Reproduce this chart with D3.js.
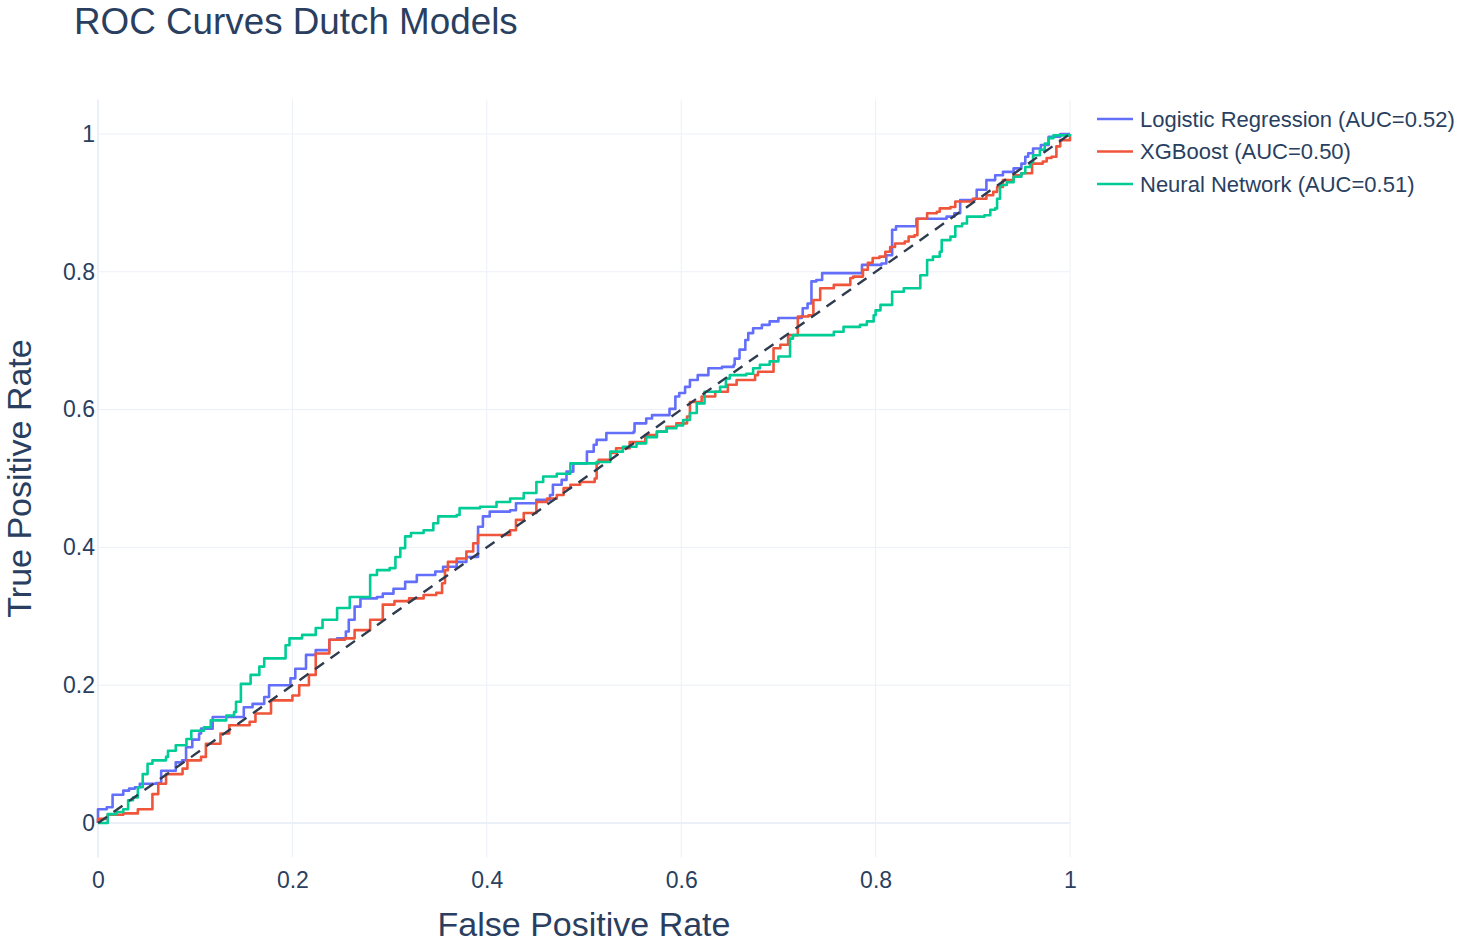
<!DOCTYPE html>
<html>
<head>
<meta charset="utf-8">
<title>ROC Curves Dutch Models</title>
<script src="https://cdn.jsdelivr.net/npm/d3@7"></script>
<style>
  body { margin: 0; background: #fff; }
  svg text { font-family: "Liberation Sans", Arial, Helvetica, sans-serif; fill: #2a3f5f; }
</style>
</head>
<body>
<div id="chart"></div>
<script>
// series names and AUC shown in the legend
const modelNames = ["Logistic Regression", "XGBoost", "Neural Network"];
const modelAuc = [0.52, 0.50, 0.51];

// ROC points, [fpr, tpr]
const logisticRoc = [
  [0,0],[0,0.020],[0.009,0.020],[0.009,0.023],[0.015,0.023],[0.015,0.041],[0.026,0.047],[0.032,0.050],
  [0.038,0.052],[0.043,0.057],[0.060,0.058],[0.065,0.069],[0.065,0.076],[0.080,0.088],[0.0865,0.091],
  [0.0906,0.110],[0.097,0.121],[0.104,0.130],[0.106,0.137],[0.118,0.137],[0.118,0.154],[0.150,0.154],
  [0.150,0.168],[0.159,0.173],[0.171,0.183],[0.176,0.200],[0.198,0.210],[0.203,0.224],[0.214,0.244],
  [0.224,0.251],[0.238,0.266],[0.246,0.268],[0.255,0.278],[0.258,0.295],[0.264,0.314],[0.270,0.326],
  [0.287,0.328],[0.293,0.333],[0.304,0.340],[0.316,0.350],[0.328,0.360],[0.347,0.365],[0.355,0.372],
  [0.369,0.379],[0.379,0.386],[0.391,0.391],[0.391,0.430],[0.396,0.445],[0.403,0.452],[0.424,0.454],
  [0.430,0.464],[0.451,0.469],[0.465,0.476],[0.468,0.491],[0.477,0.498],[0.482,0.510],[0.489,0.522],
  [0.503,0.539],[0.510,0.549],[0.513,0.556],[0.523,0.566],[0.551,0.568],[0.552,0.580],[0.564,0.587],
  [0.570,0.592],[0.587,0.592],[0.588,0.601],[0.594,0.619],[0.598,0.624],[0.604,0.633],[0.609,0.643],
  [0.617,0.650],[0.628,0.660],[0.642,0.662],[0.654,0.665],[0.655,0.674],[0.660,0.687],[0.666,0.701],
  [0.669,0.711],[0.674,0.718],[0.683,0.723],[0.691,0.728],[0.700,0.733],[0.724,0.735],[0.725,0.747],
  [0.730,0.754],[0.734,0.786],[0.739,0.788],[0.745,0.798],[0.786,0.800],[0.786,0.810],[0.806,0.812],
  [0.811,0.824],[0.817,0.861],[0.821,0.866],[0.842,0.866],[0.842,0.877],[0.873,0.880],[0.881,0.885],
  [0.887,0.904],[0.902,0.906],[0.904,0.919],[0.912,0.919],[0.914,0.933],[0.923,0.940],[0.931,0.945],
  [0.942,0.950],[0.950,0.957],[0.954,0.967],[0.957,0.972],[0.962,0.979],[0.970,0.984],[0.978,0.996],
  [0.990,1],[1,1]
];

const xgbRoc = [
  [0,0],[0,0.006],[0.010,0.006],[0.010,0.012],[0.026,0.014],[0.041,0.014],[0.041,0.020],[0.051,0.020],
  [0.056,0.042],[0.062,0.057],[0.070,0.071],[0.087,0.079],[0.092,0.091],[0.106,0.096],[0.111,0.115],
  [0.126,0.130],[0.135,0.142],[0.156,0.147],[0.162,0.159],[0.178,0.178],[0.200,0.185],[0.207,0.200],
  [0.217,0.215],[0.224,0.246],[0.238,0.266],[0.254,0.268],[0.264,0.280],[0.280,0.295],[0.293,0.317],
  [0.305,0.322],[0.320,0.326],[0.335,0.331],[0.348,0.334],[0.354,0.348],[0.357,0.367],[0.360,0.379],
  [0.369,0.384],[0.379,0.394],[0.386,0.406],[0.391,0.418],[0.413,0.418],[0.424,0.425],[0.430,0.440],
  [0.438,0.450],[0.451,0.466],[0.462,0.471],[0.472,0.476],[0.479,0.486],[0.486,0.491],[0.496,0.495],
  [0.511,0.500],[0.513,0.522],[0.515,0.527],[0.527,0.537],[0.533,0.544],[0.547,0.553],[0.563,0.563],
  [0.575,0.568],[0.584,0.568],[0.585,0.575],[0.595,0.580],[0.606,0.590],[0.609,0.611],[0.621,0.619],
  [0.635,0.626],[0.648,0.636],[0.657,0.643],[0.676,0.650],[0.679,0.655],[0.695,0.667],[0.695,0.689],
  [0.702,0.694],[0.710,0.708],[0.720,0.735],[0.731,0.737],[0.736,0.759],[0.743,0.776],[0.757,0.781],
  [0.774,0.791],[0.777,0.793],[0.787,0.803],[0.792,0.813],[0.797,0.820],[0.804,0.822],[0.810,0.829],
  [0.815,0.836],[0.820,0.841],[0.830,0.844],[0.834,0.851],[0.840,0.853],[0.843,0.877],[0.853,0.885],
  [0.863,0.887],[0.866,0.892],[0.877,0.894],[0.882,0.902],[0.900,0.906],[0.914,0.911],[0.921,0.916],
  [0.925,0.923],[0.931,0.933],[0.942,0.940],[0.950,0.943],[0.961,0.957],[0.972,0.960],[0.976,0.965],
  [0.981,0.967],[0.986,0.982],[0.990,0.991],[1,1]
];

const nnRoc = [
  [0,0],[0.010,0.013],[0.019,0.016],[0.026,0.020],[0.031,0.033],[0.036,0.037],[0.041,0.052],[0.046,0.071],
  [0.051,0.086],[0.056,0.091],[0.070,0.096],[0.072,0.105],[0.080,0.113],[0.091,0.122],[0.096,0.134],
  [0.109,0.139],[0.116,0.149],[0.132,0.156],[0.140,0.161],[0.142,0.176],[0.147,0.202],[0.157,0.215],
  [0.166,0.227],[0.171,0.239],[0.191,0.239],[0.193,0.258],[0.197,0.268],[0.210,0.273],[0.224,0.283],
  [0.231,0.295],[0.246,0.312],[0.259,0.328],[0.280,0.328],[0.280,0.360],[0.287,0.367],[0.300,0.370],
  [0.306,0.386],[0.311,0.399],[0.316,0.416],[0.322,0.421],[0.335,0.425],[0.345,0.435],[0.350,0.445],
  [0.369,0.447],[0.372,0.457],[0.393,0.459],[0.410,0.466],[0.424,0.471],[0.438,0.479],[0.451,0.495],
  [0.458,0.503],[0.472,0.507],[0.486,0.522],[0.513,0.524],[0.527,0.539],[0.540,0.546],[0.554,0.551],
  [0.564,0.560],[0.575,0.568],[0.585,0.573],[0.595,0.577],[0.602,0.585],[0.609,0.595],[0.616,0.609],
  [0.624,0.626],[0.640,0.633],[0.646,0.645],[0.650,0.650],[0.667,0.652],[0.674,0.660],[0.681,0.665],
  [0.691,0.670],[0.700,0.677],[0.712,0.703],[0.715,0.708],[0.753,0.708],[0.757,0.713],[0.767,0.720],
  [0.784,0.723],[0.791,0.728],[0.798,0.737],[0.800,0.744],[0.805,0.752],[0.817,0.757],[0.817,0.771],
  [0.829,0.776],[0.846,0.795],[0.853,0.817],[0.859,0.822],[0.866,0.829],[0.868,0.846],[0.877,0.851],
  [0.882,0.866],[0.889,0.870],[0.894,0.880],[0.912,0.882],[0.918,0.890],[0.923,0.892],[0.925,0.906],
  [0.928,0.926],[0.935,0.930],[0.942,0.938],[0.950,0.943],[0.954,0.952],[0.959,0.959],[0.962,0.969],
  [0.969,0.977],[0.974,0.986],[0.978,0.994],[0.983,0.998],[1,1]
];

// chance diagonal
const chanceLine = [[0,0],[1,1]];
const tickValues = [0, 0.2, 0.4, 0.6, 0.8, 1];
const colors = ["#636efa", "#EF553B", "#00cc96"];

const width = 1460, height = 942;
const plot = {left: 98, right: 1070, top: 99.5, bottom: 857.5};

const svg = d3.select("#chart").append("svg")
    .attr("width", width)
    .attr("height", height);

const x = d3.scaleLinear().domain([0, 1]).range([plot.left, plot.right]);
const y = d3.scaleLinear().domain([-0.05, 1.05]).range([plot.bottom, plot.top]);

// grid
const grid = svg.append("g").attr("class", "grid");
grid.selectAll(".vgrid")
    .data(tickValues.filter(d => d !== 0))
    .enter().append("line")
    .attr("x1", d => x(d)).attr("x2", d => x(d))
    .attr("y1", plot.top).attr("y2", plot.bottom)
    .attr("stroke", "#EBF0F8").attr("stroke-width", 1);
grid.selectAll(".hgrid")
    .data(tickValues.filter(d => d !== 0))
    .enter().append("line")
    .attr("x1", plot.left).attr("x2", plot.right)
    .attr("y1", d => y(d)).attr("y2", d => y(d))
    .attr("stroke", "#EBF0F8").attr("stroke-width", 1);

// zero lines
grid.append("line")
    .attr("x1", x(0)).attr("x2", x(0))
    .attr("y1", plot.top).attr("y2", plot.bottom)
    .attr("stroke", "#EBF0F8").attr("stroke-width", 2);
grid.append("line")
    .attr("x1", plot.left).attr("x2", plot.right)
    .attr("y1", y(0)).attr("y2", y(0))
    .attr("stroke", "#EBF0F8").attr("stroke-width", 2);

// axes (labels only)
const xAxis = svg.append("g")
    .attr("transform", "translate(0," + plot.bottom + ")")
    .call(d3.axisBottom(x).tickValues(tickValues).tickFormat(d3.format("~g")).tickSize(0).tickPadding(14));
const yAxis = svg.append("g")
    .attr("transform", "translate(" + plot.left + ",0)")
    .call(d3.axisLeft(y).tickValues(tickValues).tickFormat(d3.format("~g")).tickSize(0).tickPadding(3));
[xAxis, yAxis].forEach(a => {
    a.select(".domain").remove();
    a.selectAll("text").style("font-size", "23px").attr("fill", "#2a3f5f");
});

// curves
const line = d3.line()
    .x(d => x(d[0]))
    .y(d => y(d[1]))
    .curve(d3.curveStepAfter);

const series = [logisticRoc, xgbRoc, nnRoc];
svg.append("g").selectAll("path")
    .data(series)
    .enter().append("path")
    .attr("d", line)
    .attr("fill", "none")
    .attr("stroke", (d, i) => colors[i])
    .attr("stroke-width", 2.6)
    .attr("stroke-linejoin", "round");

// diagonal, dashed
svg.append("path")
    .attr("d", d3.line().x(d => x(d[0])).y(d => y(d[1]))(chanceLine))
    .attr("fill", "none")
    .attr("stroke", "#2f3b4e")
    .attr("stroke-width", 2.4)
    .attr("stroke-dasharray", "11,8");

// legend
const legend = svg.append("g").attr("transform", "translate(1097,119)");
const items = legend.selectAll("g")
    .data(modelNames)
    .enter().append("g")
    .attr("transform", (d, i) => "translate(0," + i * 32.5 + ")");
items.append("line")
    .attr("x1", 0).attr("x2", 36)
    .attr("stroke", (d, i) => colors[i])
    .attr("stroke-width", 2.6);
items.append("text")
    .attr("x", 43)
    .attr("dy", "0.35em")
    .style("font-size", "22px")
    .text((d, i) => d + " (AUC=" + modelAuc[i].toFixed(2) + ")");

// titles
svg.append("text")
    .attr("x", 74).attr("y", 34)
    .style("font-size", "36.8px")
    .text("ROC Curves Dutch Models");

svg.append("text")
    .attr("x", (plot.left + plot.right) / 2).attr("y", 936)
    .attr("text-anchor", "middle")
    .style("font-size", "34px")
    .text("False Positive Rate");

svg.append("text")
    .attr("transform", "translate(31," + (plot.top + plot.bottom) / 2 + ") rotate(-90)")
    .attr("text-anchor", "middle")
    .style("font-size", "34px")
    .text("True Positive Rate");
</script>
</body>
</html>
